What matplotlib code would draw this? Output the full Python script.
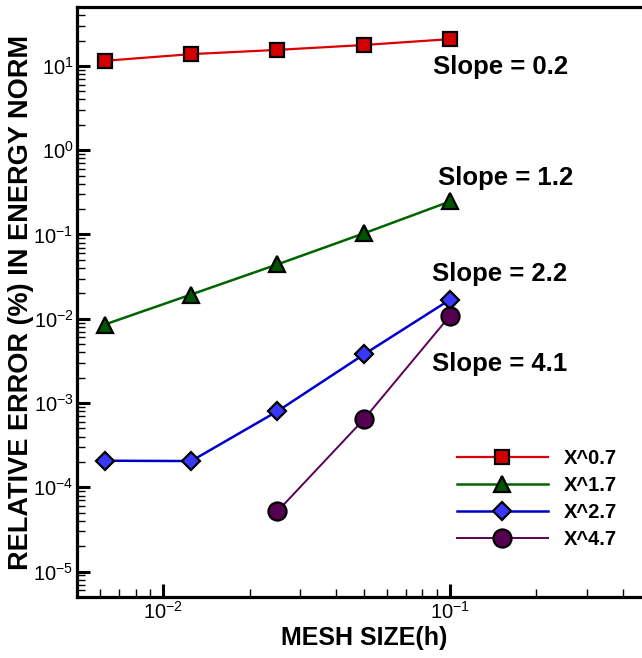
import matplotlib
matplotlib.use("Agg")
import matplotlib.pyplot as plt
from matplotlib.ticker import LogLocator, NullFormatter

plt.rcParams['font.family'] = ['Liberation Sans', 'DejaVu Sans']
plt.rcParams['mathtext.default'] = 'regular'

# ---- data ----
mesh_size = [0.00625, 0.0125, 0.025, 0.05, 0.1]
err_x07 = [11.5, 13.8, 15.5, 17.7, 20.8]
err_x17 = [0.00855, 0.0194, 0.0442, 0.103, 0.247]
err_x27 = [2.07e-4, 2.05e-4, 8.0e-4, 3.77e-3, 0.0169]
mesh_size_x47 = [0.025, 0.05, 0.1]
err_x47 = [5.2e-5, 6.4e-4, 0.0109]
series_labels = ['X^0.7', 'X^1.7', 'X^2.7', 'X^4.7']
slope_labels = ['Slope = 0.2', 'Slope = 1.2', 'Slope = 2.2', 'Slope = 4.1']
y_decades = [1e-5, 1e-4, 1e-3, 1e-2, 1e-1, 1e0, 1e1]
x_decades = [1e-2, 1e-1]

fig = plt.figure(figsize=(6.42, 6.58), dpi=100)
ax = fig.add_axes([77/642, 61/658, (650.6-77)/642, 590/658])

ax.plot(mesh_size, err_x07, '-s', color='#dd0000', lw=1.6, ms=9.4,
        mfc='#d40000', mec='black', mew=1.6, label=series_labels[0])
ax.plot(mesh_size, err_x17, '-^', color='#006400', lw=1.8, ms=12,
        mfc='#005500', mec='black', mew=1.6, label=series_labels[1])
ax.plot(mesh_size, err_x27, '-D', color='#0000c8', lw=1.8, ms=9.2,
        mfc='#3838ff', mec='black', mew=1.6, label=series_labels[2])
ax.plot(mesh_size_x47, err_x47, '-o', color='#5a0058', lw=1.4, ms=13,
        mfc='#560052', mec='black', mew=1.6, label=series_labels[3])

ax.set_xscale('log')
ax.set_yscale('log')
ax.set_xlim(0.005, 0.5)
ax.set_ylim(5e-6, 50)

ax.set_yticks(y_decades)
ax.set_xticks(x_decades)
ax.yaxis.set_minor_locator(LogLocator(base=10, subs=range(2, 10), numticks=20))
ax.xaxis.set_minor_locator(LogLocator(base=10, subs=range(2, 10), numticks=20))
ax.yaxis.set_minor_formatter(NullFormatter())
ax.xaxis.set_minor_formatter(NullFormatter())

for s in ['left', 'bottom', 'top', 'right']:
    ax.spines[s].set_linewidth(2.3)
ax.tick_params(which='major', direction='in', length=9.5, width=2.2,
               labelsize=14.5, top=False, right=False)
ax.tick_params(which='minor', direction='in', length=5.5, width=1.0,
               top=False, right=False)
ax.tick_params(axis='y', which='major', pad=2.5)
ax.tick_params(axis='x', which='major', pad=3)

ax.set_xlabel('MESH SIZE(h)', fontsize=18, fontweight='bold')
ax.xaxis.set_label_coords(0.5, -0.049)
ax.set_ylabel('RELATIVE ERROR (%) IN ENERGY NORM', fontsize=19.5,
              fontweight='bold', va='center')
ax.yaxis.set_label_coords(-0.0985, 0.499)

slope_pos = [(0.6207, 0.8864), (0.6294, 0.6983), (0.6196, 0.5356), (0.6189, 0.3831)]
for txt, (px, py) in zip(slope_labels, slope_pos):
    ax.text(px, py, txt, transform=ax.transAxes, fontsize=18.5,
            fontweight='bold', ha='left', va='baseline')

leg = ax.legend(loc='upper left', bbox_to_anchor=(457/642, (658-449)/658),
                bbox_transform=fig.transFigure, frameon=False,
                prop={'size': 14.5, 'weight': 'bold'}, handlelength=4.5,
                handletextpad=0.8, labelspacing=0.4, borderpad=0,
                borderaxespad=0, numpoints=1)

fig.savefig('out.png', dpi=100)
